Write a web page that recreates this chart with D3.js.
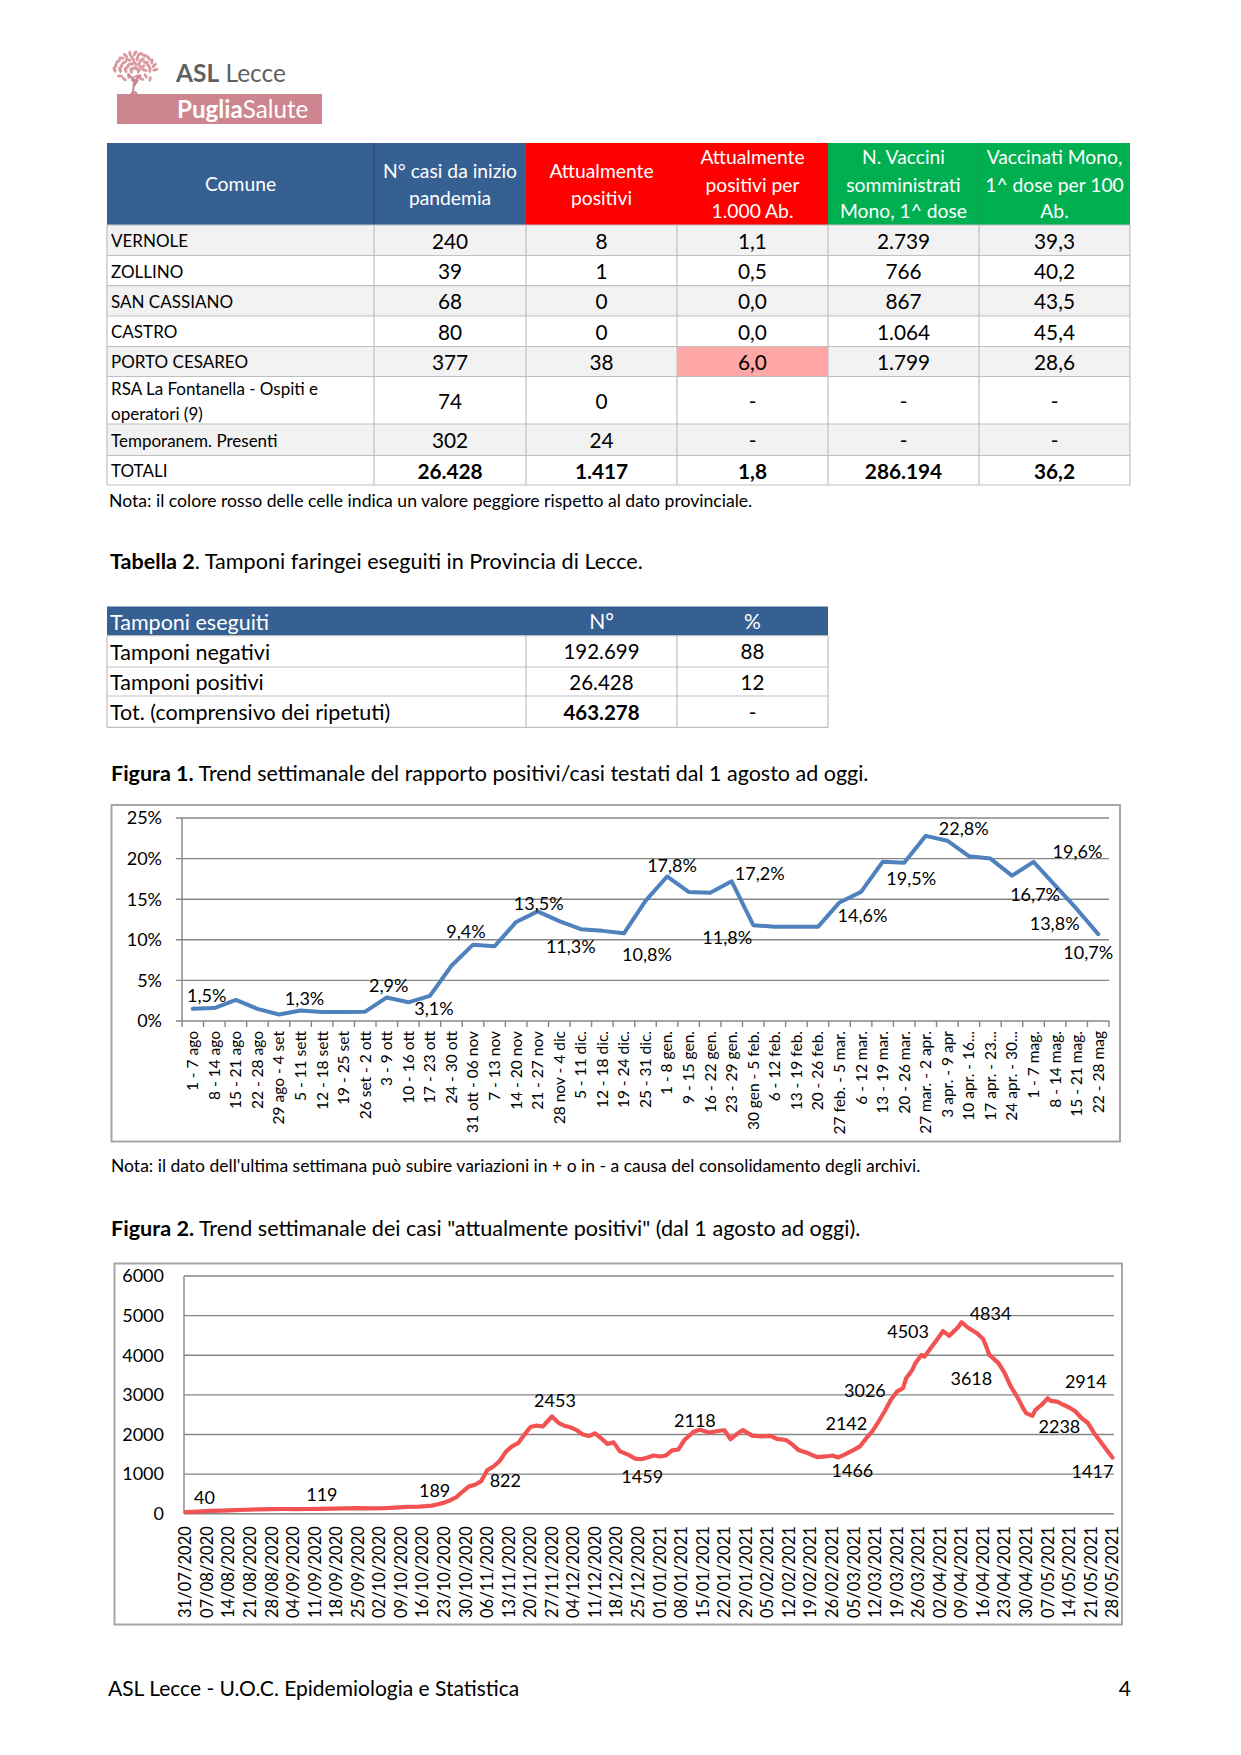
<!DOCTYPE html>
<html><head><meta charset="utf-8">
<script src="https://cdn.jsdelivr.net/npm/d3@7"></script>
<style>
body{margin:0;background:#fff}
svg{display:block}
text{font-family:Lato,'Open Sans',sans-serif;fill:#000}
</style>
</head><body>
<svg id="page" width="1241" height="1755"></svg>
<script>
// ---------------- DATA ----------------
const table1Headers = [
  ["Comune"],
  ["N° casi da inizio","pandemia"],
  ["Attualmente","positivi"],
  ["Attualmente","positivi per","1.000 Ab."],
  ["N. Vaccini","somministrati","Mono, 1^ dose"],
  ["Vaccinati Mono,","1^ dose per 100","Ab."]
];
const comuni = ["VERNOLE","ZOLLINO","SAN CASSIANO","CASTRO","PORTO CESAREO","RSA La Fontanella - Ospiti e|operatori (9)","Temporanem. Presenti","TOTALI"];
const casiTotali = ["240","39","68","80","377","74","302","26.428"];
const attualmentePositivi = ["8","1","0","0","38","0","24","1.417"];
const positiviPer1000 = ["1,1","0,5","0,0","0,0","6,0","-","-","1,8"];
const vacciniSomministrati = ["2.739","766","867","1.064","1.799","-","-","286.194"];
const vaccinatiPer100 = ["39,3","40,2","43,5","45,4","28,6","-","-","36,2"];
const worseThanProvince = [[4,3]]; // [row, col] highlighted red

const table2Headers = ["Tamponi eseguiti","N°","%"];
const tamponiLabels = ["Tamponi negativi","Tamponi positivi","Tot. (comprensivo dei ripetuti)"];
const tamponiN = ["192.699","26.428","463.278"];
const tamponiPct = ["88","12","-"];

const weeks = ["1 - 7 ago","8 - 14 ago","15 - 21 ago","22 - 28 ago","29 ago - 4 set","5 - 11 sett","12 - 18 sett","19 - 25 set","26 set - 2 ott","3 - 9 ott","10 - 16 ott","17 - 23 ott","24 - 30 ott","31 ott - 06 nov","7 - 13 nov","14 - 20 nov","21 - 27 nov","28 nov - 4 dic","5 - 11 dic.","12 - 18 dic.","19 - 24 dic.","25 - 31 dic.","1 - 8 gen.","9 - 15 gen.","16 - 22 gen.","23 - 29 gen.","30 gen - 5 feb.","6 - 12 feb.","13 - 19 feb.","20 - 26 feb.","27 feb. - 5 mar.","6 - 12 mar.","13 - 19 mar.","20 - 26 mar.","27 mar. - 2 apr.","3 apr. - 9 apr","10 apr. - 16...","17 apr. - 23...","24 apr. - 30...","1 - 7 mag.","8 - 14 mag.","15 - 21 mag.","22 - 28 mag"];
const positivityRate = [1.5,1.6,2.6,1.5,0.8,1.3,1.1,1.1,1.15,2.9,2.3,3.1,6.8,9.4,9.2,12.2,13.5,12.3,11.3,11.1,10.8,14.8,17.8,15.9,15.8,17.2,11.8,11.6,11.6,11.6,14.6,15.9,19.6,19.5,22.8,22.2,20.3,20.0,17.9,19.6,16.7,13.8,10.7];
const rateTicks = [0,5,10,15,20,25];
const rateLabelIdx = [0,5,9,11,13,16,18,20,22,25,26,30,33,34,39,40,41,42];

const activeDates = ["2020-07-31","2020-08-04","2020-08-08","2020-08-12","2020-08-16","2020-08-20","2020-08-24","2020-08-28","2020-09-01","2020-09-05","2020-09-09","2020-09-13","2020-09-17","2020-09-21","2020-09-25","2020-09-29","2020-10-03","2020-10-07","2020-10-11","2020-10-15","2020-10-17","2020-10-19","2020-10-21","2020-10-23","2020-10-25","2020-10-27","2020-10-29","2020-10-31","2020-11-02","2020-11-04","2020-11-06","2020-11-08","2020-11-10","2020-11-12","2020-11-14","2020-11-16","2020-11-18","2020-11-20","2020-11-22","2020-11-24","2020-11-27","2020-11-29","2020-12-01","2020-12-03","2020-12-05","2020-12-07","2020-12-09","2020-12-11","2020-12-13","2020-12-15","2020-12-17","2020-12-19","2020-12-22","2020-12-24","2020-12-26","2020-12-28","2020-12-30","2021-01-01","2021-01-03","2021-01-05","2021-01-07","2021-01-09","2021-01-12","2021-01-14","2021-01-17","2021-01-21","2021-01-22","2021-01-24","2021-01-26","2021-01-28","2021-01-31","2021-02-03","2021-02-06","2021-02-08","2021-02-11","2021-02-13","2021-02-15","2021-02-18","2021-02-21","2021-02-24","2021-02-26","2021-02-28","2021-03-02","2021-03-05","2021-03-07","2021-03-09","2021-03-11","2021-03-13","2021-03-15","2021-03-17","2021-03-19","2021-03-21","2021-03-22","2021-03-24","2021-03-25","2021-03-27","2021-03-28","2021-03-30","2021-04-01","2021-04-03","2021-04-05","2021-04-07","2021-04-08","2021-04-09","2021-04-11","2021-04-14","2021-04-16","2021-04-17","2021-04-18","2021-04-21","2021-04-23","2021-04-25","2021-04-27","2021-04-29","2021-04-30","2021-05-02","2021-05-03","2021-05-05","2021-05-07","2021-05-08","2021-05-10","2021-05-12","2021-05-14","2021-05-16","2021-05-18","2021-05-20","2021-05-22","2021-05-24","2021-05-26","2021-05-28"];
const activeCases = [40,55,70,80,90,100,110,115,118,117,119,122,128,132,140,135,138,155,170,180,189,205,240,280,340,420,560,690,730,822,1100,1190,1330,1560,1700,1780,1990,2190,2225,2200,2453,2300,2220,2180,2110,2000,1960,2030,1900,1760,1800,1580,1480,1390,1375,1420,1470,1445,1470,1600,1620,1860,2070,2118,2050,2100,2105,1880,2010,2110,1970,1950,1966,1890,1860,1750,1610,1530,1430,1445,1470,1420,1490,1610,1700,1900,2080,2320,2580,2870,3080,3170,3420,3630,3800,4010,3966,4180,4390,4610,4490,4640,4720,4834,4700,4555,4410,4220,4010,3800,3550,3210,2960,2660,2540,2470,2620,2750,2914,2850,2830,2750,2680,2580,2410,2290,2040,1830,1620,1417];
const activeTicks = [0,1000,2000,3000,4000,5000,6000];
const dateTickLabels = ["31/07/2020","07/08/2020","14/08/2020","21/08/2020","28/08/2020","04/09/2020","11/09/2020","18/09/2020","25/09/2020","02/10/2020","09/10/2020","16/10/2020","23/10/2020","30/10/2020","06/11/2020","13/11/2020","20/11/2020","27/11/2020","04/12/2020","11/12/2020","18/12/2020","25/12/2020","01/01/2021","08/01/2021","15/01/2021","22/01/2021","29/01/2021","05/02/2021","12/02/2021","19/02/2021","26/02/2021","05/03/2021","12/03/2021","19/03/2021","26/03/2021","02/04/2021","09/04/2021","16/04/2021","23/04/2021","30/04/2021","07/05/2021","14/05/2021","21/05/2021","28/05/2021"];
const activeLabelDates = ["31/07/2020","11/09/2020","16/10/2020","06/11/2020","27/11/2020","25/12/2020","15/01/2021","12/03/2021","28/02/2021","19/03/2021","03/04/2021","09/04/2021","19/04/2021","07/05/2021","02/05/2021","28/05/2021"];
const activeLabelValues = [40,119,189,822,2453,1459,2118,2142,1466,3026,4503,4834,3618,2914,2238,1417];

// ---------------- STYLE / LAYOUT ----------------
const rateLabelOffsets = [[14,-13],[4,-12],[2,-12],[4,13],[-7,-13],[1,-8],[-10,17],[23,21],[5,-11],[28,-8],[-26,13],[23,13],[7,16],[38,-7],[44,-10],[-20,9],[-22,15],[-10,19]];
const activeLabelOffsets = [[19,-14],[7,-14],[12,-16],[18,0],[3,-16],[4,21],[-8,-9],[-29,-5],[14,15],[-32,-3],[-35,-4],[29,-8],[-21,8],[38,-17],[27,2],[-20,14]];

const svg = d3.select('#page');
svg.append('rect').attr('width',1241).attr('height',1755).attr('fill','#fff');

function T(g, x, y, s, o={}) {
  const t = g.append('text').attr('x',x).attr('y',y).attr('dy','0.35em')
    .attr('font-size',o.size||16).attr('text-anchor',o.anchor||'start')
    .style('fill',o.fill||'#000').attr('font-weight',o.weight||'normal');
  if (o.transform) t.attr('transform',o.transform);
  t.text(s);
  return t;
}

// ---------------- LOGO ----------------
const logo = svg.append('g');
const leafColor = '#d99aa2';
for (let r=0;r<4;r++){
  const n = 4 + r*3, rad = 4 + r*5.2;
  for (let k=0;k<n;k++){
    const ang = -Math.PI + (k+0.5)/n*Math.PI;
    const cx = 135 + Math.cos(ang)*rad*1.05, cy = 72 + Math.sin(ang)*rad*0.95;
    logo.append('ellipse').attr('cx',cx).attr('cy',cy).attr('rx',3.2).attr('ry',1.6)
      .attr('transform',`rotate(${(ang*180/Math.PI)+60+k*25},${cx},${cy})`).attr('fill',leafColor);
  }
}
for (let k=0;k<8;k++){
  const cx = 120 + k*4.3, cy = 76 + (k%2)*3;
  logo.append('ellipse').attr('cx',cx).attr('cy',cy).attr('rx',3).attr('ry',1.5)
    .attr('transform',`rotate(${k*40},${cx},${cy})`).attr('fill',leafColor);
}
logo.append('path').attr('d','M133,94 L134,80 L128,74 M134,82 L141,75 M134,86 L138,80 M131,94 Q134,90 137,94')
  .attr('stroke','#c98390').attr('stroke-width',2).attr('fill','none');
const logoT = logo.append('text').attr('x',176).attr('y',82).attr('font-size',24.5).style('fill','#5f5f5f');
logoT.append('tspan').attr('font-weight','bold').text('ASL');
logoT.append('tspan').text(' Lecce');
logo.append('rect').attr('x',117).attr('y',94).attr('width',205).attr('height',30).attr('fill','#cd8590');
const logoT2 = logo.append('text').attr('x',177).attr('y',117.5).attr('font-size',24.2).style('fill','#fff');
logoT2.append('tspan').attr('font-weight','bold').text('Puglia');
logoT2.append('tspan').text('Salute');

// ---------------- TABLE 1 ----------------
const t1 = svg.append('g');
const colX = [107,374,526,677,828,979,1130];
const headTop = 143, headBot = 225;
const rowY = [225,255.5,285.7,316,346.5,376.5,424,455.5,485];
const headFill = ['#376092','#376092','#ff0000','#ff0000','#00b050','#00b050'];
const headLineY = {1:[184.3],2:[171.7,198.3],3:[157.3,185,211.7]};
table1Headers.forEach((lines,c)=>{
  t1.append('rect').attr('x',colX[c]).attr('y',headTop).attr('width',colX[c+1]-colX[c]).attr('height',headBot-headTop).attr('fill',headFill[c]);
});
t1.append('line').attr('x1',374).attr('x2',374).attr('y1',headTop).attr('y2',headBot).attr('stroke','#27466e').attr('stroke-width',1);
t1.append('line').attr('x1',979).attr('x2',979).attr('y1',headTop).attr('y2',headBot).attr('stroke','#1a9a50').attr('stroke-width',1);
table1Headers.forEach((lines,c)=>{
  const ys = headLineY[lines.length];
  lines.forEach((s,i)=>T(t1,(colX[c]+colX[c+1])/2,ys[i],s,{size:19.3,anchor:'middle',fill:'#fff'}));
});
const cols = [comuni,casiTotali,attualmentePositivi,positiviPer1000,vacciniSomministrati,vaccinatiPer100];
comuni.forEach((name,r)=>{
  const y0=rowY[r], y1=rowY[r+1];
  t1.append('rect').attr('x',colX[0]).attr('y',y0).attr('width',colX[6]-colX[0]).attr('height',y1-y0)
    .attr('fill', r%2===0 && r<7 ? '#f2f2f2' : '#fff');
});
worseThanProvince.forEach(([r,c])=>{
  t1.append('rect').attr('x',colX[c]).attr('y',rowY[r]).attr('width',colX[c+1]-colX[c]).attr('height',rowY[r+1]-rowY[r]).attr('fill','#ffa6a6');
});
rowY.forEach(y=>t1.append('line').attr('x1',colX[0]).attr('x2',colX[6]).attr('y1',y).attr('y2',y).attr('stroke','#bfbfbf').attr('stroke-width',1.2));
colX.forEach(x=>t1.append('line').attr('x1',x).attr('x2',x).attr('y1',headBot).attr('y2',rowY[8]).attr('stroke','#bfbfbf').attr('stroke-width',1.2));
comuni.forEach((name,r)=>{
  const cy=(rowY[r]+rowY[r+1])/2;
  const parts = name.split('|');
  if (parts.length===1) T(t1,111,cy+1,name,{size:17});
  else { T(t1,111,389.3,parts[0],{size:17}); T(t1,111,414,parts[1],{size:17}); }
  for (let c=1;c<6;c++){
    T(t1,(colX[c]+colX[c+1])/2,cy+1,cols[c][r],{size:20.8,anchor:'middle',weight: r===7?'bold':'normal'});
  }
});
T(svg,109,501,"Nota: il colore rosso delle celle indica un valore peggiore rispetto al dato provinciale.",{size:17.6});

// ---------------- TABLE 2 ----------------
const t2 = svg.append('g');
const tb1 = T(t2,110,561,"",{size:21.6});
tb1.append('tspan').attr('font-weight','bold').text('Tabella 2');
tb1.append('tspan').text('. Tamponi faringei eseguiti in Provincia di Lecce.');
const c2X = [107,526,677,828];
const r2Y = [606.5,635.6,667,696,727.4];
t2.append('rect').attr('x',107).attr('y',r2Y[0]).attr('width',828-107).attr('height',r2Y[1]-r2Y[0]).attr('fill','#376092');
T(t2,110,(r2Y[0]+r2Y[1])/2+1,table2Headers[0],{size:21.5,fill:'#fff'});
T(t2,(c2X[1]+c2X[2])/2,(r2Y[0]+r2Y[1])/2+1,table2Headers[1],{size:21,fill:'#fff',anchor:'middle'});
T(t2,(c2X[2]+c2X[3])/2,(r2Y[0]+r2Y[1])/2+1,table2Headers[2],{size:21,fill:'#fff',anchor:'middle'});
r2Y.slice(1).forEach(y=>t2.append('line').attr('x1',107).attr('x2',828).attr('y1',y).attr('y2',y).attr('stroke','#bfbfbf').attr('stroke-width',1.2));
c2X.forEach(x=>t2.append('line').attr('x1',x).attr('x2',x).attr('y1',r2Y[1]).attr('y2',r2Y[4]).attr('stroke','#bfbfbf').attr('stroke-width',1.2));
tamponiLabels.forEach((s,r)=>{
  const cy=(r2Y[r+1]+r2Y[r+2])/2+1;
  T(t2,110,cy,s,{size:21.5});
  T(t2,(c2X[1]+c2X[2])/2,cy,tamponiN[r],{size:20.5,anchor:'middle',weight:r===2?'bold':'normal'});
  T(t2,(c2X[2]+c2X[3])/2,cy,tamponiPct[r],{size:20.5,anchor:'middle'});
});

// ---------------- FIGURE 1 ----------------
const f1 = svg.append('g');
const ft1 = T(f1,111,773,"",{size:21.5});
ft1.append('tspan').attr('font-weight','bold').text('Figura 1.');
ft1.append('tspan').text(' Trend settimanale del rapporto positivi/casi testati dal 1 agosto ad oggi.');
f1.append('rect').attr('x',111.5).attr('y',805).attr('width',1008.5).attr('height',336.5).attr('fill','none').attr('stroke','#a6a6a6').attr('stroke-width',2);
const x1 = d3.scaleBand().domain(weeks).range([182,1109]);
const y1 = d3.scaleLinear().domain([0,25]).range([1021,818]);
const grid = '#868686';
rateTicks.forEach(v=>{
  f1.append('line').attr('x1',176).attr('x2',1109).attr('y1',y1(v)).attr('y2',y1(v)).attr('stroke',grid).attr('stroke-width',1.4);
  T(f1,162,y1(v),v+'%',{size:18,anchor:'end'});
});
f1.append('line').attr('x1',182).attr('x2',182).attr('y1',y1(25)).attr('y2',y1(0)).attr('stroke',grid).attr('stroke-width',1.4);
weeks.forEach((w,i)=>{
  const xb = x1(w);
  f1.append('line').attr('x1',xb).attr('x2',xb).attr('y1',y1(0)).attr('y2',y1(0)+6).attr('stroke',grid).attr('stroke-width',1.4);
  const cx = xb + x1.bandwidth()/2;
  T(f1,cx,1031,w,{size:15.5,anchor:'end',transform:`rotate(-90,${cx},1031)`});
});
f1.append('line').attr('x1',1109).attr('x2',1109).attr('y1',y1(0)).attr('y2',y1(0)+6).attr('stroke',grid).attr('stroke-width',1.4);
const line1 = d3.line().x((d,i)=>x1(weeks[i])+x1.bandwidth()/2).y(d=>y1(d));
f1.append('path').attr('d',line1(positivityRate)).attr('fill','none').attr('stroke','#4f81bd').attr('stroke-width',4).attr('stroke-linejoin','round').attr('stroke-linecap','round');
const fmtPct = v => d3.format('.1f')(v).replace('.',',')+'%';
rateLabelIdx.forEach((i,k)=>{
  const [dx,dy] = rateLabelOffsets[k];
  T(f1,x1(weeks[i])+x1.bandwidth()/2+dx,y1(positivityRate[i])+dy,fmtPct(positivityRate[i]),{size:18,anchor:'middle'});
});
T(svg,111,1166,"Nota: il dato dell'ultima settimana può subire variazioni in + o in - a causa del consolidamento degli archivi.",{size:17.5});

// ---------------- FIGURE 2 ----------------
const f2 = svg.append('g');
const ft2 = T(f2,111,1228,"",{size:21.6});
ft2.append('tspan').attr('font-weight','bold').text('Figura 2.');
ft2.append('tspan').text(' Trend settimanale dei casi "attualmente positivi" (dal 1 agosto ad oggi).');
f2.append('rect').attr('x',114.5).attr('y',1263.5).attr('width',1007.5).attr('height',361).attr('fill','none').attr('stroke','#a6a6a6').attr('stroke-width',2);
const parseISO = d3.utcParse('%Y-%m-%d');
const parseIT = d3.utcParse('%d/%m/%Y');
const x2 = d3.scaleUtc().domain([d3.utcHour.offset(parseISO(activeDates[0]),-12), d3.utcHour.offset(parseISO(activeDates[activeDates.length-1]),12)]).range([184,1114]);
const y2 = d3.scaleLinear().domain([0,6000]).range([1513.7,1276]);
activeTicks.forEach(v=>{
  f2.append('line').attr('x1',184).attr('x2',1114).attr('y1',y2(v)).attr('y2',y2(v)).attr('stroke',grid).attr('stroke-width',1.4);
  T(f2,164,y2(v),String(v),{size:18,anchor:'end'});
});
f2.append('line').attr('x1',184).attr('x2',184).attr('y1',y2(6000)).attr('y2',y2(0)).attr('stroke',grid).attr('stroke-width',1.4);
dateTickLabels.forEach(s=>{
  const cx = x2(parseIT(s));
  T(f2,cx,1526,s,{size:16.6,anchor:'end',transform:`rotate(-90,${cx},1526)`});
});
const line2 = d3.line().x((d,i)=>x2(parseISO(activeDates[i]))).y(d=>y2(d));
f2.append('path').attr('d',line2(activeCases)).attr('fill','none').attr('stroke','#f25252').attr('stroke-width',4.2).attr('stroke-linejoin','round').attr('stroke-linecap','round');
activeLabelDates.forEach((s,k)=>{
  const [dx,dy] = activeLabelOffsets[k];
  T(f2,x2(parseIT(s))+dx,y2(activeLabelValues[k])+dy,String(activeLabelValues[k]),{size:18,anchor:'middle'});
});

// ---------------- FOOTER ----------------
T(svg,108,1689,"ASL Lecce - U.O.C. Epidemiologia e Statistica",{size:21});
T(svg,1131,1689,"4",{size:21,anchor:'end'});
</script>
</body></html>
